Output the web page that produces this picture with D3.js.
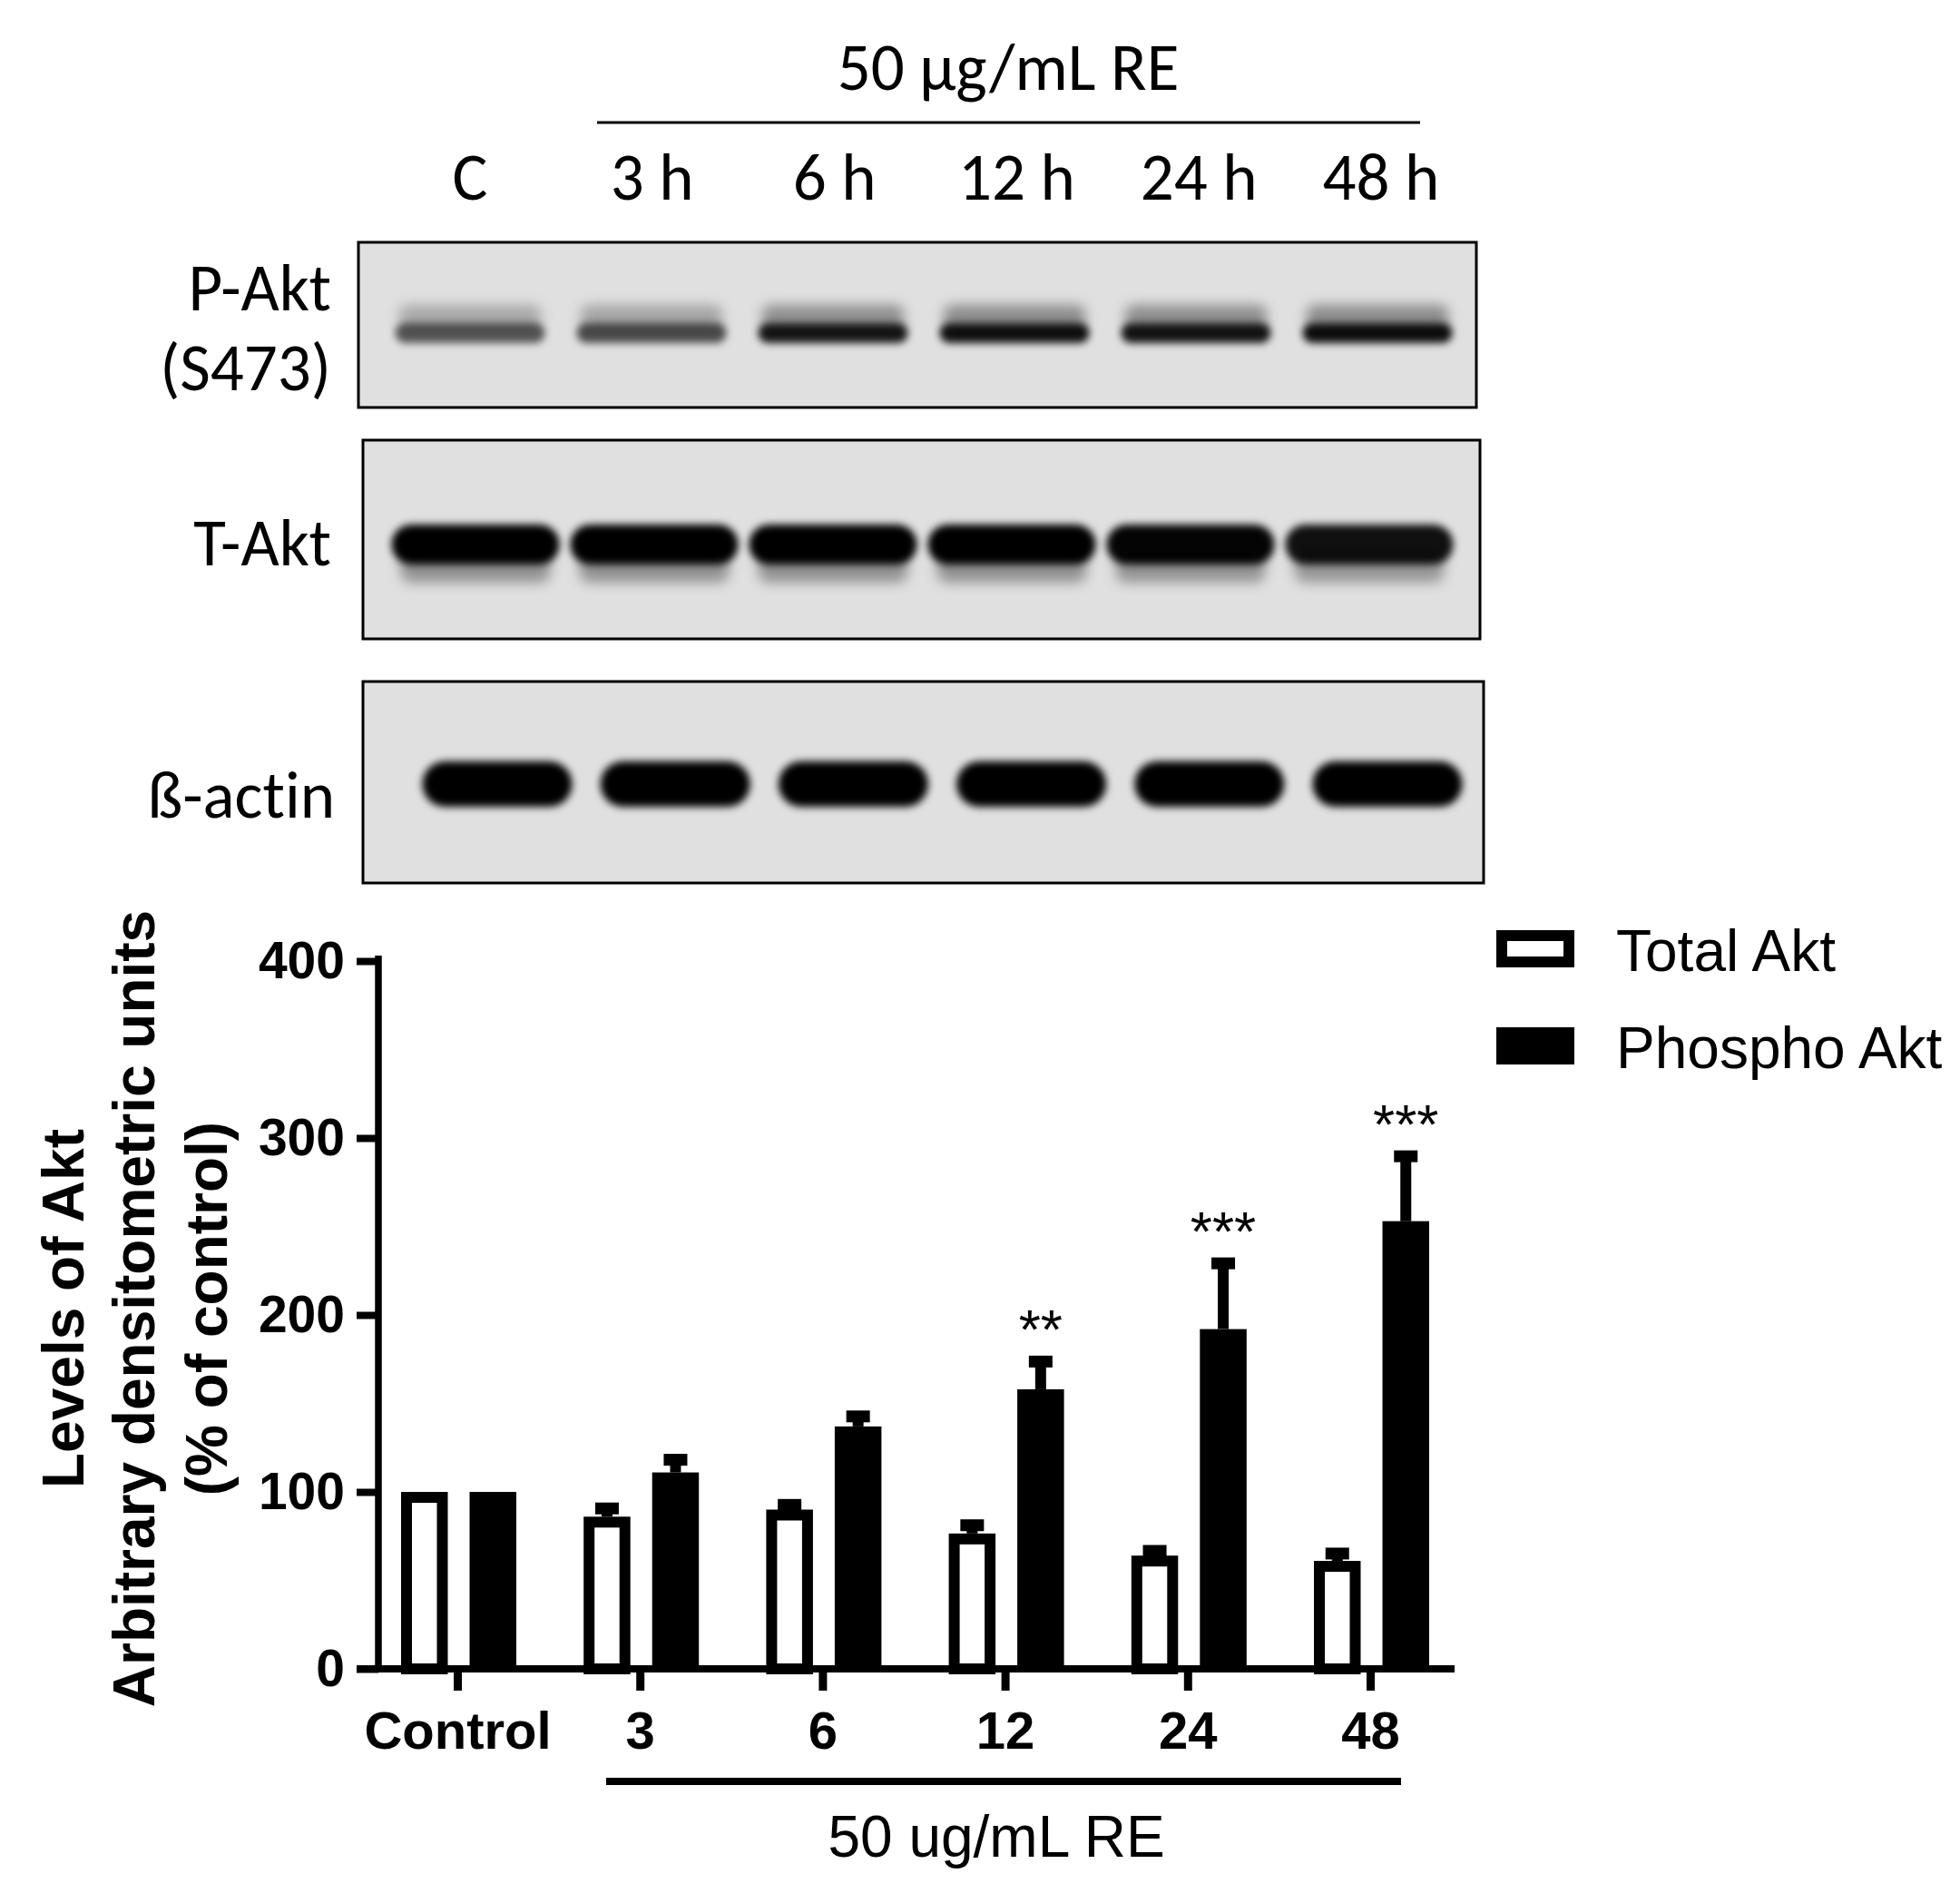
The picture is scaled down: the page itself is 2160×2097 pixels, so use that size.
<!DOCTYPE html>
<html><head><meta charset="utf-8">
<script src="https://cdn.jsdelivr.net/npm/d3@7"></script>
<style>html,body{margin:0;padding:0;background:#fff} text{font-variant-ligatures:none}</style>
</head><body>
<script>
// ---------- data ----------
const lanes = ["C", "3 h", "6 h", "12 h", "24 h", "48 h"];
const blotLabels = [["P-Akt", "(S473)"], ["T-Akt"], ["ß-actin"]];
const pAktBand = [0.62, 0.66, 0.9, 0.93, 0.91, 0.94];
const tAktBand = [1, 1, 1, 1, 0.98, 0.93];
const actinBand = [1, 1, 1, 1, 1, 1];

const groups = ["Control", "3", "6", "12", "24", "48"];
const series = ["Total Akt", "Phospho Akt"];
const totalMean = [100, 86, 90, 76.5, 64, 61];
const totalSem = [0, 8, 6, 8, 6, 7.5];
const phosphoMean = [100, 111, 137, 158, 192, 253];
const phosphoSem = [0, 10.5, 9, 19, 40.5, 40];
const stars = ["", "", "", "**", "***", "***"];
const yTicks = [0, 100, 200, 300, 400];
const yTitle = ["Levels of Akt", "Arbitrary densitometric units", "(% of control)"];
const topTitle = "50 µg/mL RE";
const bottomTitle = "50 ug/mL RE";

// ---------- setup ----------
const W = 2160, H = 2097;
const svg = d3.select("body").append("svg").attr("width", W).attr("height", H)
  .style("display", "block");
const sansNarrow = "Carlito, Calibri, Lato, 'Open Sans', sans-serif";
const arial = "'Liberation Sans', Arial, Helvetica, sans-serif";
const blotFont = 73;

const defs = svg.append("defs");
const blur = defs.append("filter").attr("id", "blur")
  .attr("x", "-20%").attr("y", "-60%").attr("width", "140%").attr("height", "220%");
blur.append("feGaussianBlur").attr("stdDeviation", 4);
const blurSoft = defs.append("filter").attr("id", "blurSoft")
  .attr("x", "-20%").attr("y", "-80%").attr("width", "140%").attr("height", "260%");
blurSoft.append("feGaussianBlur").attr("stdDeviation", 7);

// ---------- blot header ----------
svg.append("text").attr("x", 1111).attr("y", 99)
  .attr("text-anchor", "middle").attr("font-family", sansNarrow).attr("font-size", blotFont)
  .text(topTitle);
svg.append("line").attr("x1", 658).attr("x2", 1565).attr("y1", 135).attr("y2", 135)
  .attr("stroke", "#000").attr("stroke-width", 3);

const laneX = d3.scalePoint().domain(lanes).range([518, 1522]);
svg.append("g").selectAll("text").data(lanes).join("text")
  .attr("x", d => laneX(d)).attr("y", 220)
  .attr("text-anchor", "middle").attr("font-family", sansNarrow).attr("font-size", blotFont)
  .text(d => d);

// ---------- blots ----------
const panels = [
  {x: 395, y: 267, w: 1232, h: 182, range: [518, 1518], cy: 367, bh: 22, bw: 165, vals: pAktBand, halo: true,
   labels: [{t: blotLabels[0][0], y: 342}, {t: blotLabels[0][1], y: 430}], lx: 365},
  {x: 400, y: 485, w: 1231, h: 219, range: [524, 1509], cy: 600, bh: 44, bw: 185, vals: tAktBand, tail: true,
   labels: [{t: blotLabels[1][0], y: 623}], lx: 365},
  {x: 400, y: 751, w: 1235, h: 222, range: [548, 1529], cy: 864, bh: 50, bw: 165, vals: actinBand,
   labels: [{t: blotLabels[2][0], y: 901}], lx: 369}
];

panels.forEach((p, i) => {
  const g = svg.append("g");
  const clipId = "clip" + i;
  defs.append("clipPath").attr("id", clipId).append("rect")
    .attr("x", p.x).attr("y", p.y).attr("width", p.w).attr("height", p.h);
  g.append("rect").attr("x", p.x).attr("y", p.y).attr("width", p.w).attr("height", p.h)
    .attr("fill", "#e0e0e0");
  const bx = d3.scalePoint().domain(lanes).range(p.range);
  const bands = g.append("g").attr("clip-path", `url(#${clipId})`);
  if (p.halo) {
    bands.append("g").attr("filter", "url(#blurSoft)").selectAll("rect").data(p.vals).join("rect")
      .attr("x", (d, j) => bx(lanes[j]) - p.bw / 2 + 4).attr("y", p.cy - p.bh / 2 - 20)
      .attr("width", p.bw - 8).attr("height", 26).attr("rx", 10)
      .attr("fill", "#000").attr("fill-opacity", d => d * 0.4);
  }
  if (p.tail) {
    bands.append("g").attr("filter", "url(#blurSoft)").selectAll("rect").data(p.vals).join("rect")
      .attr("x", (d, j) => bx(lanes[j]) - p.bw / 2 + 10).attr("y", p.cy + p.bh / 2 - 14)
      .attr("width", p.bw - 20).attr("height", 34).attr("rx", 12)
      .attr("fill", "#000").attr("fill-opacity", d => d * 0.35);
  }
  bands.append("g").attr("filter", "url(#blur)").selectAll("rect").data(p.vals).join("rect")
    .attr("x", (d, j) => bx(lanes[j]) - p.bw / 2).attr("y", p.cy - p.bh / 2)
    .attr("width", p.bw).attr("height", p.bh).attr("rx", p.bh / 2)
    .attr("fill", "#000").attr("fill-opacity", d => d);
  g.append("rect").attr("x", p.x).attr("y", p.y).attr("width", p.w).attr("height", p.h)
    .attr("fill", "none").attr("stroke", "#000").attr("stroke-width", 3);
  p.labels.forEach(l => {
    svg.append("text").attr("x", p.lx).attr("y", l.y).attr("text-anchor", "end")
      .attr("font-family", sansNarrow).attr("font-size", blotFont).text(l.t);
  });
});

// ---------- bar chart ----------
const y = d3.scaleLinear().domain([0, 400]).range([1839, 1059]);
const x0 = d3.scalePoint().domain(groups).range([504, 1510]);
const x1 = d3.scaleBand().domain(series).range([-62, 65]).paddingInner(0.318);
const axisX = 417;

// y axis
const yAxisG = svg.append("g").attr("transform", `translate(${axisX},0)`)
  .call(d3.axisLeft(y).tickValues(yTicks).tickSize(24).tickSizeOuter(0).tickPadding(13));
yAxisG.select(".domain").attr("stroke", "#000").attr("stroke-width", 7.5).attr("d", `M0,${y(400) - 6}V${y(0)}`);
yAxisG.selectAll(".tick line").attr("stroke", "#000").attr("stroke-width", 8);
yAxisG.selectAll(".tick text").attr("font-family", arial).attr("font-weight", "bold")
  .attr("font-size", 57).attr("fill", "#000");

// x axis
const xAxisG = svg.append("g").attr("transform", `translate(0,${y(0)})`)
  .call(d3.axisBottom(x0).tickSize(24).tickSizeOuter(0));
xAxisG.select(".domain").remove();
xAxisG.selectAll(".tick line").attr("stroke", "#000").attr("stroke-width", 9);
xAxisG.selectAll(".tick text").attr("font-family", arial).attr("font-weight", "bold")
  .attr("font-size", 58).attr("fill", "#000").attr("y", 88).attr("dy", 0);
svg.append("line").attr("x1", 393).attr("x2", 1603).attr("y1", y(0)).attr("y2", y(0))
  .attr("stroke", "#000").attr("stroke-width", 8);

// y title
const yt = svg.append("g").attr("transform", `translate(0,1442) rotate(-90)`);
[92, 170, 250].forEach((b, i) => {
  yt.append("text").attr("x", 0).attr("y", b).attr("text-anchor", "middle")
    .attr("font-family", arial).attr("font-weight", "bold").attr("font-size", 64).text(yTitle[i]);
});

// bars
const rows = groups.map((g, i) => ({g, i,
  vals: [{s: series[0], m: totalMean[i], e: totalSem[i]}, {s: series[1], m: phosphoMean[i], e: phosphoSem[i]}]}));
const sw = 12;
const gg = svg.append("g").selectAll("g").data(rows).join("g")
  .attr("transform", d => `translate(${x0(d.g)},0)`);

// error bars (drawn before bars)
gg.each(function(d) {
  const sel = d3.select(this);
  d.vals.forEach(v => {
    if (v.e <= 0) return;
    const cx = x1(v.s) + x1.bandwidth() / 2;
    sel.append("line").attr("x1", cx).attr("x2", cx).attr("y1", y(v.m)).attr("y2", y(v.m + v.e) + 6)
      .attr("stroke", "#000").attr("stroke-width", 12);
    sel.append("rect").attr("x", cx - 13).attr("y", y(v.m + v.e)).attr("width", 26).attr("height", 13)
      .attr("fill", "#000");
  });
});

gg.each(function(d) {
  const sel = d3.select(this);
  const t = d.vals[0], p = d.vals[1];
  sel.append("rect").attr("x", x1(t.s) + sw / 2).attr("y", y(t.m) + sw / 2)
    .attr("width", x1.bandwidth() - sw).attr("height", y(0) - y(t.m) - sw / 2)
    .attr("fill", "#fff").attr("stroke", "#000").attr("stroke-width", sw);
  sel.append("rect").attr("x", x1(p.s)).attr("y", y(p.m))
    .attr("width", x1.bandwidth()).attr("height", y(0) - y(p.m)).attr("fill", "#000");
});

// significance stars
gg.append("text").attr("x", x1(series[1]) + x1.bandwidth() / 2)
  .attr("y", d => y(d.vals[1].m + d.vals[1].e) - 8)
  .attr("text-anchor", "middle").attr("font-family", arial).attr("font-size", 62)
  .text(d => stars[d.i]);

// bracket under x axis
svg.append("line").attr("x1", 668).attr("x2", 1544).attr("y1", 1963).attr("y2", 1963)
  .attr("stroke", "#000").attr("stroke-width", 8);
svg.append("text").attr("x", 1098).attr("y", 2046).attr("text-anchor", "middle")
  .attr("font-family", arial).attr("font-size", 64).text(bottomTitle);

// legend
const leg = svg.append("g");
const legY = [1045, 1152];
series.forEach((s, i) => {
  if (i === 0) {
    leg.append("rect").attr("x", 1649 + sw / 2).attr("y", legY[i] - 20 + sw / 2)
      .attr("width", 86 - sw).attr("height", 41 - sw)
      .attr("fill", "#fff").attr("stroke", "#000").attr("stroke-width", sw);
  } else {
    leg.append("rect").attr("x", 1649).attr("y", legY[i] - 20).attr("width", 86).attr("height", 41)
      .attr("fill", "#000");
  }
  leg.append("text").attr("x", 1781).attr("y", legY[i] + 25)
    .attr("font-family", arial).attr("font-size", 64).text(s);
});
</script>
</body></html>
